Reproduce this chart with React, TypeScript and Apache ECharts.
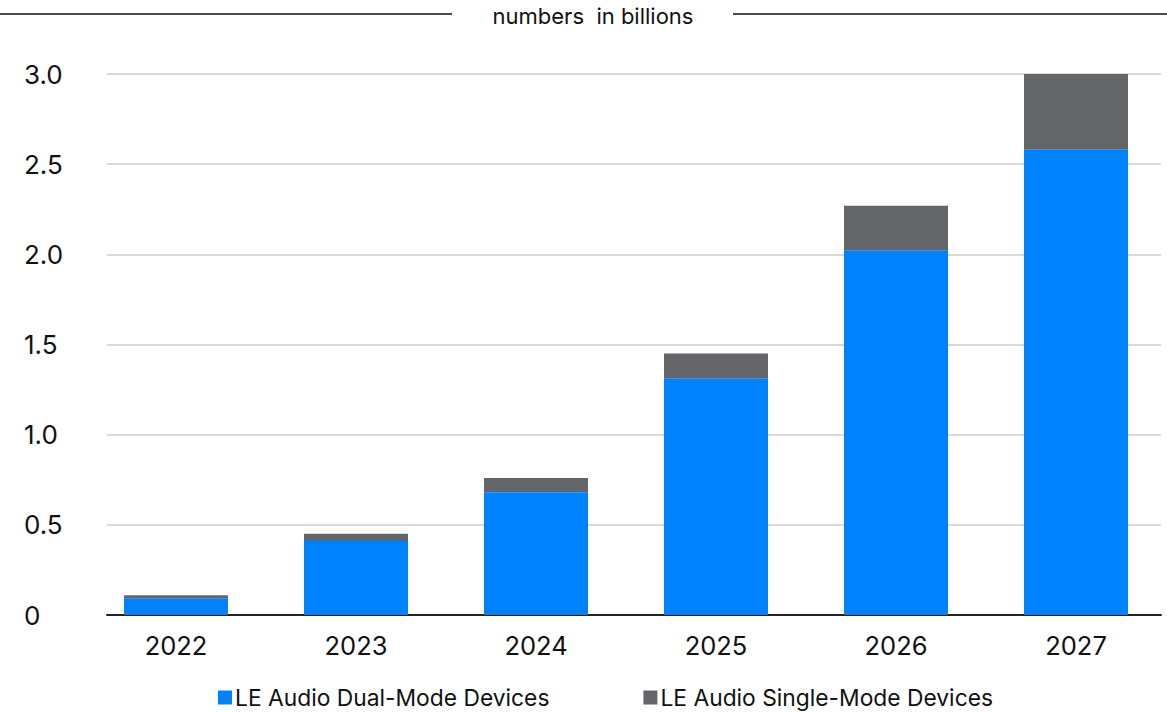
import React, { useEffect, useRef } from "react";
import * as echarts from "echarts";

const categories = ["2022", "2023", "2024", "2025", "2026", "2027"];
const dualMode = [0.09, 0.41, 0.68, 1.31, 2.02, 2.58];
const singleMode = [0.02, 0.04, 0.08, 0.14, 0.25, 0.42];
const seriesNames = ["LE Audio Dual-Mode Devices", "LE Audio Single-Mode Devices"];
const unitLabel = "numbers  in billions";

const FONT = "Inter, 'Noto Sans', sans-serif";

export default function App() {
  const ref = useRef<HTMLDivElement>(null);
  useEffect(() => {
    if (!ref.current) return;
    const chart = echarts.init(ref.current, null, { renderer: "svg" });
    chart.setOption({
      animation: false,
      backgroundColor: "#ffffff",
      textStyle: { fontFamily: FONT },
      grid: [
        { left: 86, right: 1, top: 74, bottom: 97 },
        { left: 107, right: 6, top: 74, bottom: 97 },
      ],
      legend: {
        bottom: -2,
        left: 213,
        itemWidth: 14,
        itemHeight: 14,
        itemGap: 94,
        icon: "rect",
        textStyle: { fontSize: 22.8, color: "#111", fontFamily: FONT, padding: [0, 0, 0, -2] },
        data: seriesNames,
      },
      xAxis: [
        {
          type: "category",
          gridIndex: 0,
          data: categories,
          axisTick: { show: false },
          axisLine: { show: false },
          axisLabel: { fontSize: 25.5, color: "#111", margin: 17, fontFamily: FONT },
        },
        {
          type: "category",
          gridIndex: 1,
          data: categories,
          axisTick: { show: false },
          axisLabel: { show: false },
          axisLine: { lineStyle: { color: "#222", width: 2 } },
        },
      ],
      yAxis: [
        {
          type: "value",
          gridIndex: 0,
          min: 0,
          max: 3,
          interval: 0.5,
          axisLine: { show: false },
          axisTick: { show: false },
          splitLine: { show: false },
          axisLabel: {
            fontSize: 26,
            color: "#111",
            align: "left",
            margin: 62,
            fontFamily: FONT,
            formatter: (v: number) => (v === 0 ? "0" : v.toFixed(1)),
          },
        },
        {
          type: "value",
          gridIndex: 1,
          min: 0,
          max: 3,
          interval: 0.5,
          axisLine: { show: false },
          axisTick: { show: false },
          axisLabel: { show: false },
          splitLine: { lineStyle: { color: "#d9d9d9", width: 2 } },
        },
      ],
      graphic: [
        { type: "line", shape: { x1: 0, y1: 14, x2: 452, y2: 14 }, style: { stroke: "#111", lineWidth: 1.5 } },
        { type: "line", shape: { x1: 733, y1: 14, x2: 1167, y2: 14 }, style: { stroke: "#111", lineWidth: 1.5 } },
        {
          type: "text",
          x: 593,
          y: 16,
          style: {
            text: unitLabel,
            fontSize: 22,
            fontFamily: FONT,
            fill: "#111",
            align: "center",
            verticalAlign: "middle",
          },
        },
      ],
      series: [
        {
          name: seriesNames[0],
          type: "bar",
          stack: "total",
          data: dualMode,
          barWidth: 104,
          z: 3,
          itemStyle: { color: "#0082FC" },
        },
        {
          name: seriesNames[1],
          type: "bar",
          stack: "total",
          data: singleMode,
          barWidth: 104,
          z: 3,
          itemStyle: { color: "#646569" },
        },
      ],
    });
    return () => chart.dispose();
  }, []);
  return (
    <div
      ref={ref}
      style={{ position: "fixed", left: 0, top: 0, width: 1167, height: 712 }}
    />
  );
}
